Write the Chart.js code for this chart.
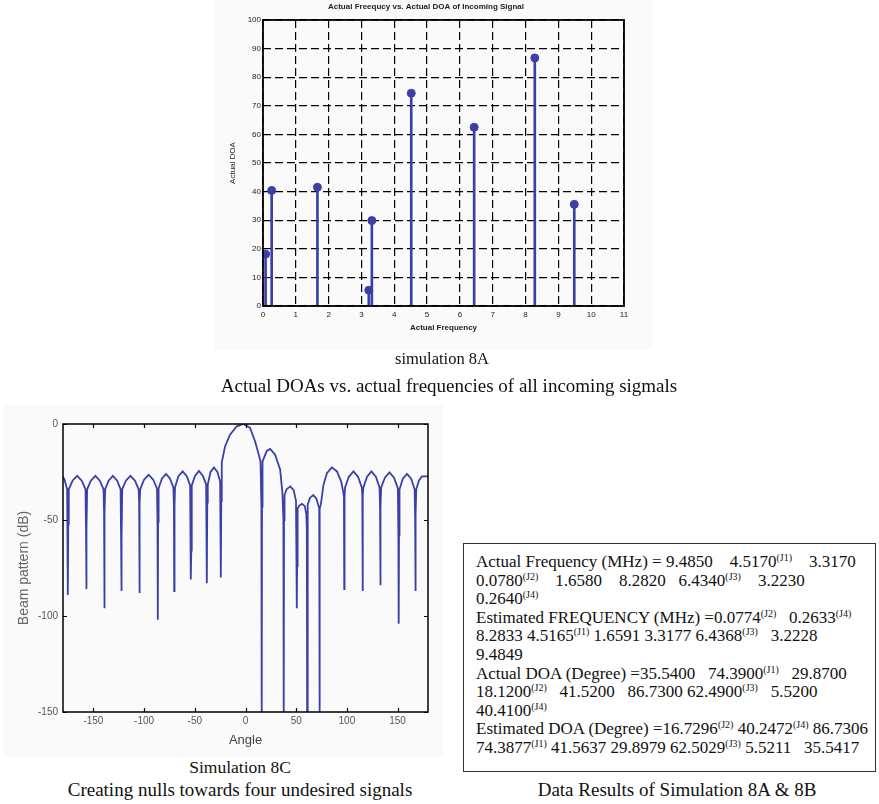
<!DOCTYPE html>
<html>
<head>
<meta charset="utf-8">
<script src="https://cdn.jsdelivr.net/npm/chart.js@4.4.1/dist/chart.umd.min.js"></script>
<style>
  body { margin: 0; background: #fff; }
  #page { position: relative; width: 879px; height: 804px; overflow: hidden; }
  .fig { position: absolute; background: #fafafa; }
  canvas { position: absolute; }
  .cap { position: absolute; font-family: "Liberation Serif", "Times New Roman", serif; font-size: 19px; line-height: 22px; color: #111; white-space: nowrap; transform: translateX(-50%); }
  #databox { position: absolute; left: 463px; top: 543px; width: 413px; height: 229px; border: 1px solid #333; box-sizing: border-box;
    font-family: "Liberation Serif", "Times New Roman", serif; font-size: 17px; line-height: 18.6px; color: #111; padding: 9px 0 0 12px; white-space: pre; }
  #databox sup { font-size: 10px; line-height: 0; vertical-align: 6px; }
</style>
</head>
<body>
<div id="page">
  <div class="fig" style="left:214px; top:0; width:438px; height:350px;"></div>
  <div class="fig" style="left:3px; top:405px; width:440px; height:352px;"></div>
  <canvas id="chartStem" width="422" height="350" style="left:228px; top:0;"></canvas>
  <canvas id="chartBeam" width="445" height="345" style="left:0; top:405px;"></canvas>

  <div class="cap" style="left:442px; top:349px; font-size:16.5px; line-height:20px;">simulation 8A</div>
  <div class="cap" style="left:449px; top:375px;">Actual DOAs vs. actual frequencies of all incoming sigmals</div>
  <div class="cap" style="left:240px; top:757px; font-size:17.5px; line-height:20px;">Simulation 8C</div>
  <div class="cap" style="left:240px; top:779px;">Creating nulls towards four undesired signals</div>
  <div class="cap" style="left:677px; top:779px;">Data Results of Simulation 8A &amp; 8B</div>

  <div id="databox"><div>Actual Frequency (MHz) = 9.4850    4.5170<sup>(J1)</sup>    3.3170</div><div>0.0780<sup>(J2)</sup>    1.6580    8.2820   6.4340<sup>(J3)</sup>    3.2230</div><div>0.2640<sup>(J4)</sup></div><div>Estimated FREQUENCY (MHz) =0.0774<sup>(J2)</sup>   0.2633<sup>(J4)</sup></div><div>8.2833 4.5165<sup>(J1)</sup> 1.6591 3.3177 6.4368<sup>(J3)</sup>   3.2228</div><div>9.4849</div><div>Actual DOA (Degree) =35.5400   74.3900<sup>(J1)</sup>   29.8700</div><div>18.1200<sup>(J2)</sup>   41.5200   86.7300 62.4900<sup>(J3)</sup>   5.5200</div><div>40.4100<sup>(J4)</sup></div><div>Estimated DOA (Degree) =16.7296<sup>(J2)</sup> 40.2472<sup>(J4)</sup> 86.7306</div><div>74.3877<sup>(J1)</sup> 41.5637 29.8979 62.5029<sup>(J3)</sup> 5.5211   35.5417</div></div>
</div>

<script>
// simulation 8A - actual frequency vs actual DOA (stem plot)
const freqActual = [9.485, 4.517, 3.317, 0.078, 1.658, 8.282, 6.434, 3.223, 0.264];
const doaActual  = [35.54, 74.39, 29.87, 18.12, 41.52, 86.73, 62.49, 5.52, 40.41];
const freqTicks = [0, 1, 2, 3, 4, 5, 6, 7, 8, 9, 10, 11];
const doaTicks  = [0, 10, 20, 30, 40, 50, 60, 70, 80, 90, 100];

// simulation 8C - beam pattern (dB) vs angle
const beamAngle = [
  -180, -178.5,
  -175.9, -175.4, -175.1, -174.8, -174.3,  -170.6, -166, -161.5,
  -157.8, -157.3, -157, -156.7, -156.2,    -152.5, -148.1, -143.7,
  -140, -139.5, -139.2, -138.9, -138.4,    -135, -130.8, -126.6,
  -123.2, -122.7, -122.4, -122.1, -121.6,  -118, -113.5, -109,
  -105.4, -104.9, -104.6, -104.3, -103.8,  -100.1, -95.5, -91,
  -87.3, -86.8, -86.5, -86.2, -85.7,       -82.5, -78.4, -74.4,
  -71.1, -70.6, -70.3, -70, -69.5,         -66.2, -62, -57.9,
  -54.6, -54.1, -53.8, -53.5, -53,         -49.8, -45.9, -42,
  -38.8, -38.3, -38, -37.7, -37.2,         -34.5, -31.1, -27.7,
  -25, -24.5, -24.2, -23.9,
  -23.4, -20.2, -15.3, -8.6, -2.1, 4.5, 9.4, 12.1, 14.8,
  15.7, 16, 16.3,
  16.8, 21, 24.3, 29.2, 34.2, 36.4,
  37.4, 37.7, 38,
  38.5, 40.5, 44.2, 47.5, 49.8,
  50.3, 50.6, 50.9,
  51.4, 53, 55.7, 58.5, 60,
  60.5, 60.8, 61.1,
  61.6, 63.5, 66.9, 70, 72.2,
  72.7, 73, 73.3,
  74.3, 76.9, 80.3, 85.2, 90.2, 94.4, 96.6,
  97.1, 97.4, 97.7, 98.2,                  101.9, 106.5, 111, 114.7,
  115.2, 115.5, 115.8, 116.3,              119.9, 124.2, 128.6, 132.2,
  132.7, 133, 133.3, 133.8,                137.5, 142, 146.5, 150.3,
  150.8, 151.1, 151.4, 151.9,              155.2, 159.3, 163.4, 166.8,
  167.3, 167.6, 167.9, 168.4,              171, 174, 180
];
const beamDb = [
  -27.5, -29,
  -34, -52, -89, -52, -34,                 -29.5, -27, -29.5,
  -34, -55, -86, -55, -34,                 -29.5, -27, -29.5,
  -34, -46, -96, -46, -34,                 -29.5, -27, -29.5,
  -34, -60, -87, -60, -34,                 -29.5, -27, -29.5,
  -34, -41, -88, -41, -34,                 -29, -26.5, -29,
  -33.5, -51, -102, -51, -33.5,            -28.5, -26, -28.5,
  -33, -43, -87, -43, -33,                 -27.2, -24.7, -27.2,
  -32, -66, -81, -66, -32,                 -27, -24.4, -27,
  -31.5, -41, -83, -41, -31.5,             -25, -22.6, -25,
  -30, -40, -80, -40,
  -20, -11.7, -5.6, -1.2, 0, -2, -9, -14, -19.5,
  -43, -155, -43,
  -19.5, -14, -13, -16, -23.8, -35.9,
  -50, -155, -50,
  -37, -34, -32.5, -34.5, -40,
  -74, -96, -74,
  -44, -42.5, -41.6, -42.8, -47,
  -55, -155, -55,
  -42, -38.5, -37, -39, -43,
  -44, -155, -44,
  -42, -31.7, -25.6, -22.6, -24.7, -30, -36,
  -38, -86, -38, -33,                      -27.5, -24.7, -27.5, -33,
  -37, -87, -37, -33,                      -27.5, -24.7, -27.5, -33,
  -43, -84, -43, -33,                      -28, -25.2, -28, -33.5,
  -58, -104, -58, -34,                     -28.5, -26, -28.5, -34,
  -48, -87, -48, -34,                      -29.5, -27.3, -27.3
];
const beamTicksX = [-150, -100, -50, 0, 50, 100, 150];
const beamTicksY = [0, -50, -100, -150];

const fontSans = "'Liberation Sans', Arial, Helvetica, sans-serif";
const blue = '#3b40a6';

// box round the plot area + matlab style inner ticks
const framePlugin = {
    id: 'frame',
    afterDatasetsDraw(chart, args, opts) {
        const { ctx, chartArea: a, scales } = chart;
        ctx.save();
        ctx.strokeStyle = '#000';
        const t = opts.tick;
        if (t) {
            ctx.beginPath();
            scales.x.ticks.forEach(tk => {
                const x = Math.round(scales.x.getPixelForValue(tk.value)) + 0.5;
                ctx.moveTo(x, a.bottom); ctx.lineTo(x, a.bottom - t);
                ctx.moveTo(x, a.top); ctx.lineTo(x, a.top + t);
            });
            scales.y.ticks.forEach(tk => {
                const y = Math.round(scales.y.getPixelForValue(tk.value)) + 0.5;
                ctx.moveTo(a.left, y); ctx.lineTo(a.left + t, y);
                ctx.moveTo(a.right, y); ctx.lineTo(a.right - t, y);
            });
            ctx.lineWidth = 1.2;
            ctx.stroke();
        }
        ctx.lineWidth = opts.width;
        ctx.strokeRect(a.left, a.top, a.right - a.left, a.bottom - a.top);
        ctx.restore();
    }
};

function fixSize(prop, val) {
    return s => {
        s[prop] = val;
        s.paddingLeft = 0; s.paddingRight = 0; s.paddingTop = 0; s.paddingBottom = 0;
    };
}

function renderStem() {
    const stemPts = freqActual.map((f, i) => ({ x: f, y: doaActual[i] }));
    new Chart(document.getElementById('chartStem'), {
        type: 'bar',
        data: {
            datasets: [
                { type: 'line', data: stemPts, showLine: false, pointRadius: 4, pointHoverRadius: 4,
                  pointBackgroundColor: blue, pointBorderColor: blue, borderColor: blue },
                { type: 'bar', data: stemPts, backgroundColor: blue, barThickness: 2, grouped: false }
            ]
        },
        options: {
            responsive: false, animation: false, events: [],
            layout: { padding: { left: 0, top: 0, right: 26, bottom: 0 } },
            plugins: {
                legend: { display: false }, tooltip: { enabled: false },
                title: { display: true, text: 'Actual Freequcy vs. Actual DOA of Incoming Signal',
                         color: '#222', font: { family: fontSans, size: 8, weight: 'bold', lineHeight: 1 },
                         padding: { top: 3, bottom: 9 } },
                frame: { width: 1.8, tick: 0 }
            },
            scales: {
                x: { type: 'linear', min: 0, max: 11, offset: false,
                     afterBuildTicks: s => { s.ticks = freqTicks.map(v => ({ value: v })); },
                     afterFit: fixSize('height', 44),
                     ticks: { color: '#222', padding: 4, autoSkip: false, maxRotation: 0, font: { family: fontSans, size: 8 } },
                     grid: { color: '#000', lineWidth: 1.2, drawTicks: false, offset: false },
                     border: { display: false, dash: [8, 4] },
                     title: { display: true, text: 'Actual Frequency', color: '#222',
                              font: { family: fontSans, size: 8, weight: 'bold' }, padding: { top: 0, bottom: 17 } } },
                y: { type: 'linear', min: 0, max: 100,
                     afterBuildTicks: s => { s.ticks = doaTicks.map(v => ({ value: v })); },
                     afterFit: fixSize('width', 35),
                     ticks: { color: '#222', padding: 2, autoSkip: false, font: { family: fontSans, size: 8 } },
                     grid: { color: '#000', lineWidth: 1.2, drawTicks: false },
                     border: { display: false, dash: [8, 4] },
                     title: { display: true, text: 'Actual DOA', color: '#222',
                              font: { family: fontSans, size: 8 }, padding: { top: 0, bottom: 0 } } }
            }
        },
        plugins: [framePlugin]
    });
}

function renderBeam() {
    const pts = beamAngle.map((a, i) => ({ x: a, y: beamDb[i] }));
    new Chart(document.getElementById('chartBeam'), {
        type: 'line',
        data: { datasets: [{ data: pts, borderColor: blue, borderWidth: 1.8, pointRadius: 0, tension: 0, fill: false }] },
        options: {
            responsive: false, animation: false, events: [],
            layout: { padding: { left: 0, top: 19, right: 17, bottom: 0 } },
            plugins: { legend: { display: false }, tooltip: { enabled: false }, frame: { width: 1.5, tick: 4 } },
            scales: {
                x: { type: 'linear', min: -180, max: 180,
                     afterBuildTicks: s => { s.ticks = beamTicksX.map(v => ({ value: v })); },
                     afterFit: fixSize('height', 38),
                     ticks: { color: '#555', padding: 3, autoSkip: false, maxRotation: 0, font: { family: fontSans, size: 10 } },
                     grid: { display: false, drawTicks: false },
                     border: { display: false },
                     title: { display: true, text: 'Angle', color: '#444',
                              font: { family: fontSans, size: 13 }, padding: { top: 0, bottom: 2 } } },
                y: { type: 'linear', min: -150, max: 0,
                     afterBuildTicks: s => { s.ticks = beamTicksY.map(v => ({ value: v })); },
                     afterFit: fixSize('width', 63),
                     ticks: { color: '#555', padding: 5, autoSkip: false, font: { family: fontSans, size: 10 } },
                     grid: { display: false, drawTicks: false },
                     border: { display: false },
                     title: { display: true, text: 'Beam pattern (dB)', color: '#666',
                              font: { family: fontSans, size: 14 }, padding: { top: 16, bottom: 0 } } }
            }
        },
        plugins: [framePlugin]
    });
}

window.onload = function() {
    renderStem();
    renderBeam();
};
</script>
</body>
</html>
